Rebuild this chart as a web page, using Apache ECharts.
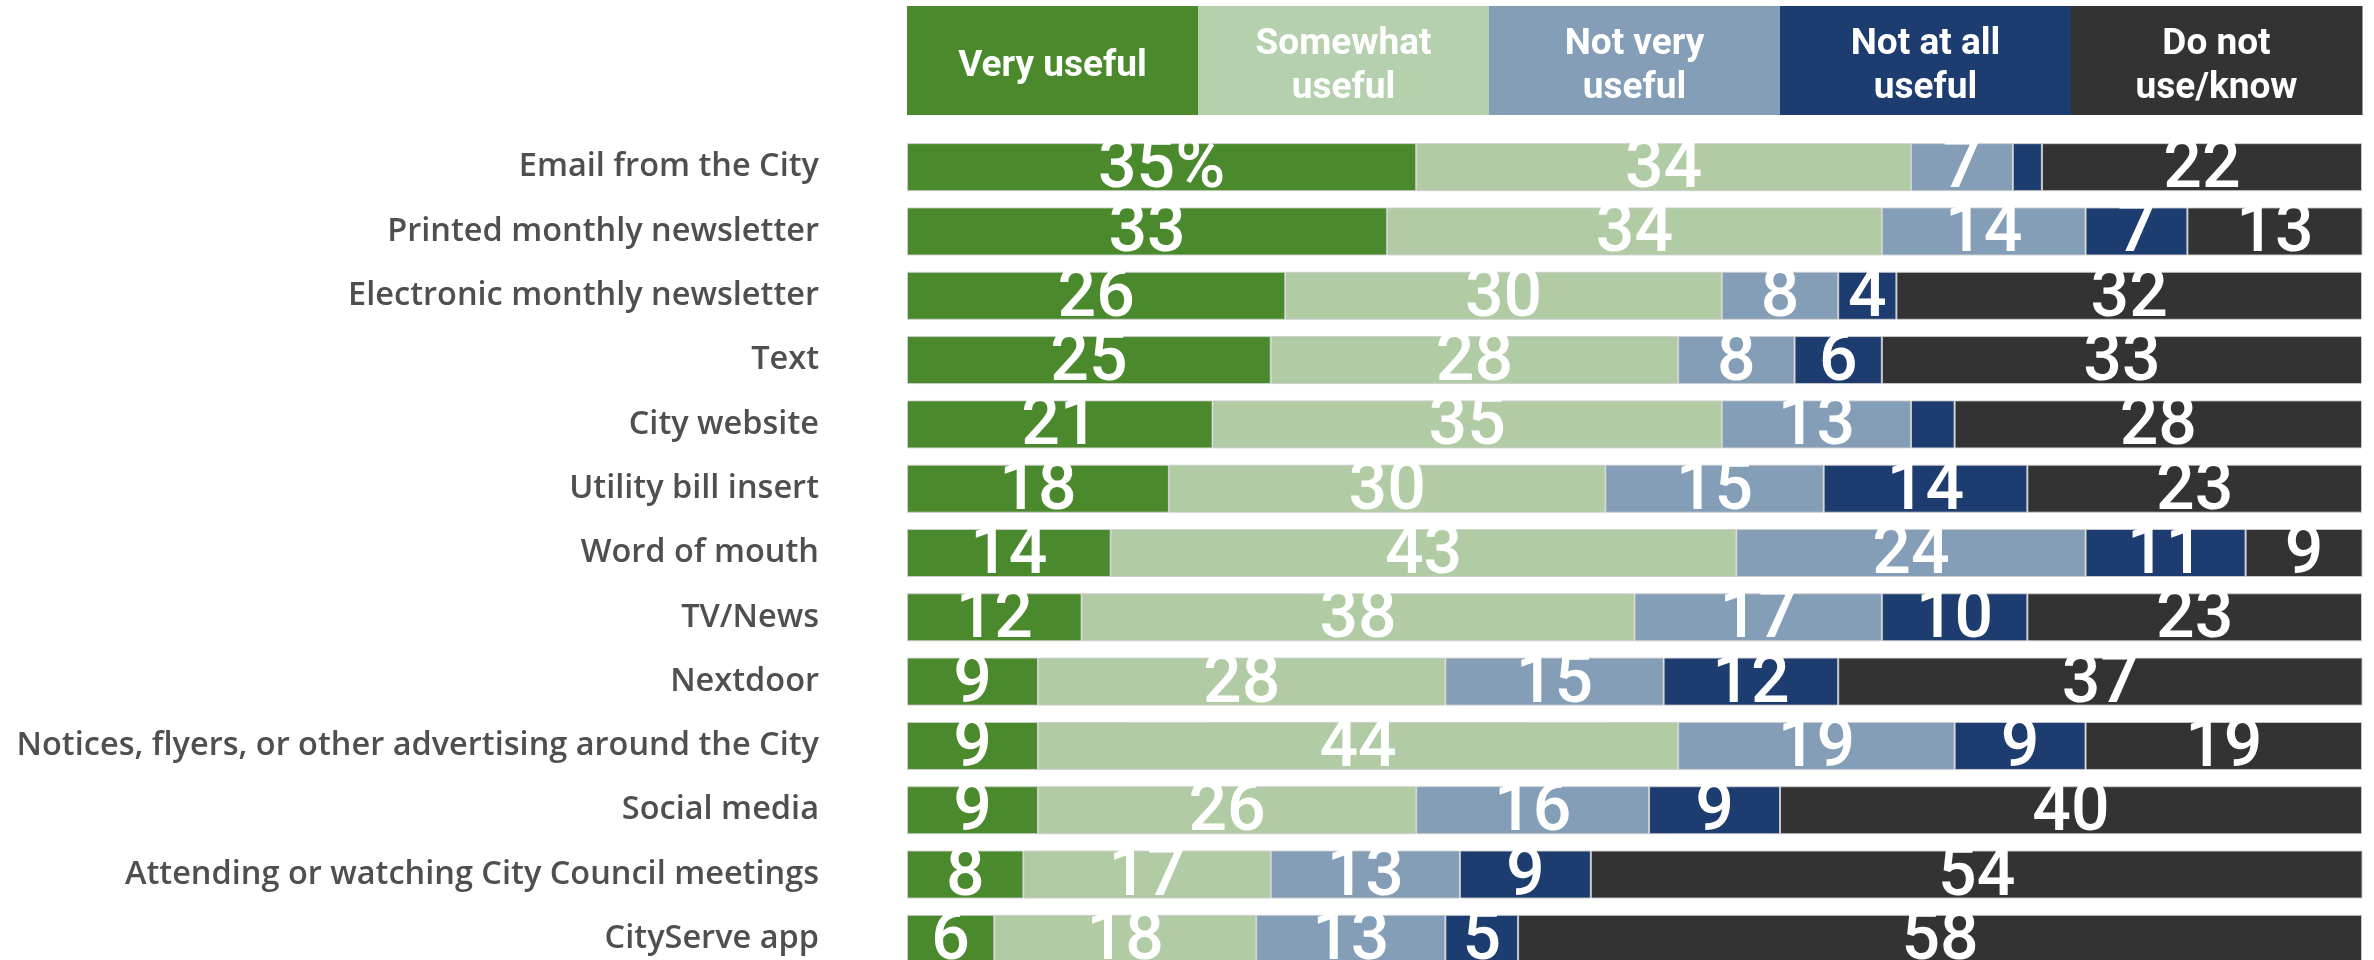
<!DOCTYPE html>
<html>
<head>
<meta charset="utf-8">
<title>Usefulness of City communication channels</title>
<script src="https://cdn.jsdelivr.net/npm/echarts@6/dist/echarts.min.js"></script>
<style>
  html, body { margin: 0; padding: 0; background: #ffffff; }
  #chart { width: 2374px; height: 960px; }
</style>
</head>
<body>
<div id="chart"></div>
<script>
// Communication channels, top to bottom
var channels = [
  'Email from the City',
  'Printed monthly newsletter',
  'Electronic monthly newsletter',
  'Text',
  'City website',
  'Utility bill insert',
  'Word of mouth',
  'TV/News',
  'Nextdoor',
  'Notices, flyers, or other advertising around the City',
  'Social media',
  'Attending or watching City Council meetings',
  'CityServe app'
];

// Share of respondents (%) per rating
var veryUseful      = [35, 33, 26, 25, 21, 18, 14, 12,  9,  9,  9,  8,  6];
var somewhatUseful  = [34, 34, 30, 28, 35, 30, 43, 38, 28, 44, 26, 17, 18];
var notVeryUseful   = [ 7, 14,  8,  8, 13, 15, 24, 17, 15, 19, 16, 13, 13];
var notAtAllUseful  = [ 2,  7,  4,  6,  3, 14, 11, 10, 12,  9,  9,  9,  5];
var doNotUseKnow    = [22, 13, 32, 33, 28, 23,  9, 23, 37, 19, 40, 54, 58];

var ratingNames  = ['Very useful', 'Somewhat useful', 'Not very useful', 'Not at all useful', 'Do not use/know'];
var headerLabels = ['Very useful', 'Somewhat\nuseful', 'Not very\nuseful', 'Not at all\nuseful', 'Do not\nuse/know'];
var ratingColors = ['#4a8a2c', '#b1cba5', '#849eb8', '#1d3c6f', '#333333'];
var headerColors = ['#4a8a2c', '#b5d0ad', '#849eb8', '#1d3c6f', '#333333'];

var seriesValues = [veryUseful, somewhatUseful, notVeryUseful, notAtAllUseful, doNotUseKnow];

var FONT = 'Roboto, "Noto Sans", sans-serif';
var LABEL_FONT = '"Open Sans", Roboto, sans-serif';
var W = 2374;
var GRID_LEFT = 907, GRID_RIGHT = 12;
var plotWidth = W - GRID_LEFT - GRID_RIGHT;

var series = seriesValues.map(function (vals, si) {
  return {
    name: ratingNames[si],
    type: 'bar',
    stack: 'total',
    barWidth: 48,
    clip: true,
    data: vals,
    itemStyle: {
      color: ratingColors[si],
      borderColor: 'rgba(205,205,205,0.9)',
      borderWidth: 1
    },
    label: {
      show: true,
      position: 'inside',
      color: '#ffffff',
      fontFamily: FONT,
      fontWeight: 500,
      fontSize: 68,
      offset: [0, 3],
      formatter: function (p) {
        if (p.value < 4) return '';
        if (si === 0 && p.dataIndex === 0) return p.value + '%';
        return String(p.value);
      }
    },
    emphasis: { disabled: true }
  };
});

// Header strip naming each rating
var headerTop = 6, headerHeight = 109;
var boxW = plotWidth / ratingNames.length;
var graphics = [];
headerLabels.forEach(function (txt, i) {
  graphics.push({
    type: 'rect',
    left: GRID_LEFT + i * boxW,
    top: headerTop,
    shape: { width: boxW + 0.5, height: headerHeight },
    style: { fill: headerColors[i] },
    silent: true
  });
  graphics.push({
    type: 'text',
    x: GRID_LEFT + i * boxW + boxW / 2,
    y: headerTop + headerHeight / 2 + 6,
    style: {
      text: txt,
      fill: '#ffffff',
      font: 'bold 37px ' + FONT,
      lineHeight: 44,
      align: 'center',
      verticalAlign: 'middle'
    },
    silent: true
  });
});

var chart = echarts.init(document.getElementById('chart'), null, { renderer: 'canvas' });
chart.setOption({
  animation: false,
  backgroundColor: '#ffffff',
  grid: {
    left: GRID_LEFT,
    right: GRID_RIGHT,
    top: 135,
    height: 836,
    containLabel: false,
    outerBoundsMode: 'none'
  },
  xAxis: {
    type: 'value',
    min: 0,
    max: 100,
    show: false
  },
  yAxis: {
    type: 'category',
    inverse: true,
    data: channels,
    axisLine: { show: false },
    axisTick: { show: false },
    splitLine: { show: false },
    axisLabel: {
      color: '#4f4f4f',
      fontFamily: LABEL_FONT,
      fontWeight: 600,
      fontSize: 32.5,
      margin: 88
    }
  },
  tooltip: { show: false },
  series: series,
  graphic: graphics
});
</script>
</body>
</html>
